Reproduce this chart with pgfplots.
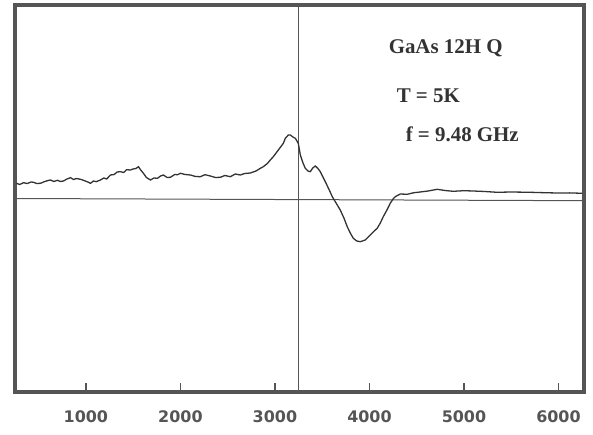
\documentclass[border=0pt]{standalone}
\usepackage{fontspec}
\setmainfont{Liberation Serif}
\newfontfamily\tickfont{DejaVu Sans}
\usepackage{pgfplots}
\pgfplotsset{compat=1.18}
\definecolor{frame}{HTML}{555555}
\definecolor{trace}{HTML}{333333}
\begin{document}
\begin{tikzpicture}
\useasboundingbox (-15bp,-43bp) rectangle (578bp,392bp);
\begin{axis}[
    scale only axis,
    width=569bp, height=387bp,
    xmin=250, xmax=6270,
    ymin=-193.5, ymax=193.5,
    axis line style={line width=4bp, frame},
    xtick={1000,2000,3000,4000,5000,6000},
    xtick pos=lower,
    ytick=\empty,
    major tick length=9bp,
    tick style={line width=1.5bp, frame},
    xticklabel style={font=\tickfont\bfseries\fontsize{16}{18}\selectfont, text=frame, yshift=-15bp},
    /pgf/number format/1000 sep={},
    /pgf/number format/assume math mode=true,
    clip=false,
]
% base line and field marker
\addplot[frame, line width=1bp] coordinates {(250,0) (6270,-2.2)};
\addplot[frame, line width=0.8bp] coordinates {(3250,-193.5) (3250,193.5)};
% EPR trace
\addplot[trace, line width=1.3bp] coordinates {
(266,15.2) (300,14.0) (340,15.8) (380,15.0) (420,16.5) (446,16.2) (480,15.0)
(520,15.2) (560,16.8) (600,18.0) (626,18.5) (660,17.0) (700,18.2) (730,17.0)
(763,17.5) (800,19.5) (837,20.8) (870,19.0) (900,20.0) (943,19.2) (980,18.0)
(1020,16.5) (1049,15.2) (1080,17.5) (1110,16.8) (1154,18.5) (1190,20.5)
(1220,19.5) (1260,23.5) (1300,24.0) (1330,26.5) (1366,26.8) (1400,26.0)
(1430,28.8) (1471,28.5) (1500,29.5) (1530,30.0) (1556,31.8) (1580,28.5)
(1609,25.2) (1640,21.0) (1683,18.5) (1720,20.5) (1757,20.2) (1790,22.5)
(1820,23.5) (1860,21.0) (1894,21.2) (1940,24.0) (1970,23.8) (2000,25.2)
(2050,24.0) (2106,23.5) (2160,22.0) (2211,21.8) (2260,23.8) (2317,22.5)
(2370,21.0) (2423,21.2) (2470,23.0) (2529,21.8) (2580,24.5) (2634,23.5)
(2680,25.0) (2740,25.5) (2800,27.5) (2846,30.2) (2877,31.8) (2920,35.0)
(2951,38.5) (2983,41.8) (3036,48.5) (3089,55.2) (3110,60.2) (3142,63.5)
(3163,63.5) (3195,61.2) (3216,60.2) (3247,55.2) (3269,43.5) (3295,36.0)
(3321,30.2) (3350,27.5) (3374,26.8) (3400,30.5) (3427,32.5) (3455,30.0)
(3480,26.8) (3505,22.0) (3533,16.8) (3570,9.5) (3607,1.8) (3650,-5.0)
(3691,-11.5) (3730,-19.5) (3765,-28.2) (3800,-35.0) (3829,-39.8) (3865,-42.5)
(3903,-43.2) (3956,-41.5) (4008,-36.5) (4045,-33.0) (4082,-29.8) (4115,-24.5)
(4146,-18.2) (4185,-11.5) (4220,-4.8) (4250,-0.5) (4273,1.8) (4326,4.5)
(4400,4.2) (4470,5.8) (4537,6.5) (4620,7.5) (4717,9.2) (4800,8.0) (4886,7.2)
(5000,7.8) (5097,7.5) (5220,7.0) (5351,6.2) (5500,6.5) (5700,6.2) (5850,5.8)
(5985,5.5) (6120,5.6) (6249,5.2)
};
\node[anchor=west, font=\bfseries\fontsize{21}{24}\selectfont, text=trace] at (axis cs:4167,150.5) {GaAs 12H Q};
\node[anchor=west, font=\bfseries\fontsize{21}{24}\selectfont, text=trace] at (axis cs:4252,102.5) {T = 5K};
\node[anchor=west, font=\bfseries\fontsize{21}{24}\selectfont, text=trace] at (axis cs:4347,64.5) {f = 9.48 GHz};
\end{axis}
\end{tikzpicture}
\end{document}
